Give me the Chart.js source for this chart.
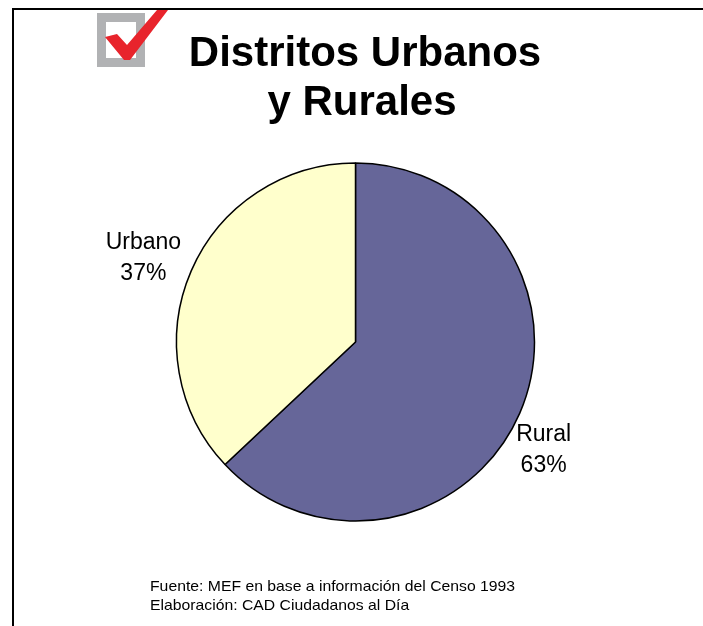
<!DOCTYPE html>
<html>
<head>
<meta charset="utf-8">
<script src="https://cdn.jsdelivr.net/npm/chart.js@4/dist/chart.umd.min.js"></script>
<style>
  html, body { margin: 0; padding: 0; background: #ffffff; }
  #wrap { width: 703px; height: 626px; position: relative; }
</style>
</head>
<body>
<div id="wrap"><canvas id="c" width="703" height="626"></canvas></div>
<script>
const categories = ["Rural", "Urbano"];
const values = [63, 37];
const valueLabels = ["63%", "37%"];
const titleLines = ["Distritos Urbanos", "y Rurales"];
const footerLines = ["Fuente: MEF en base a información del Censo 1993", "Elaboración: CAD Ciudadanos al Día"];

const sliceColors = ["#666699", "#FFFFCC"];

const decorPlugin = {
  id: 'decor',
  beforeDraw(chart) {
    const ctx = chart.ctx;
    ctx.save();
    ctx.fillStyle = '#ffffff';
    ctx.fillRect(0, 0, chart.width, chart.height);
    // frame lines
    ctx.strokeStyle = '#000000';
    ctx.lineWidth = 2;
    ctx.beginPath();
    ctx.moveTo(13, 626);
    ctx.lineTo(13, 9);
    ctx.lineTo(703, 9);
    ctx.stroke();
    // checkbox icon
    ctx.fillStyle = '#b1b2b4';
    ctx.fillRect(97, 13, 48, 54);
    ctx.fillStyle = '#ffffff';
    ctx.fillRect(106, 22, 30, 36);
    ctx.fillStyle = '#e8242c';
    ctx.beginPath();
    ctx.moveTo(105, 37);
    ctx.lineTo(117, 34);
    ctx.lineTo(127, 45);
    ctx.lineTo(157, 10);
    ctx.lineTo(168, 10);
    ctx.lineTo(130, 60);
    ctx.lineTo(124, 60);
    ctx.closePath();
    ctx.fill();
    ctx.restore();
  },
  afterDraw(chart) {
    const ctx = chart.ctx;
    ctx.save();
    ctx.fillStyle = '#000000';
    // title
    ctx.font = 'bold 42px "Liberation Sans", Arial, sans-serif';
    ctx.textAlign = 'center';
    ctx.textBaseline = 'alphabetic';
    ctx.fillText(titleLines[0], 365, 66);
    ctx.fillText(titleLines[1], 362, 115);
    // slice labels
    const meta = chart.getDatasetMeta(0);
    const nudges = [[-9, 21], [-15, -1]];
    ctx.font = '23px "Liberation Sans", Arial, sans-serif';
    meta.data.forEach((arc, i) => {
      const p = arc.getProps(['x', 'y', 'startAngle', 'endAngle', 'outerRadius'], true);
      const mid = (p.startAngle + p.endAngle) / 2;
      const ax = p.x + Math.cos(mid) * p.outerRadius * 1.2 + nudges[i][0];
      const ay = p.y + Math.sin(mid) * p.outerRadius * 1.2 + nudges[i][1];
      ctx.textAlign = 'center';
      ctx.fillText(categories[i], ax, ay - 7);
      ctx.fillText(valueLabels[i], ax, ay + 24);
    });
    // footer
    ctx.font = '15px "Liberation Sans", Arial, sans-serif';
    ctx.textAlign = 'left';
    const sx = 1.05;
    ctx.save();
    ctx.translate(150, 0);
    ctx.scale(sx, 1);
    ctx.fillText(footerLines[0], 0, 591);
    ctx.fillText(footerLines[1], 0, 610);
    ctx.restore();
    ctx.restore();
  }
};

new Chart(document.getElementById('c'), {
  type: 'pie',
  data: {
    labels: categories,
    datasets: [{
      data: values,
      backgroundColor: sliceColors,
      borderColor: '#000000',
      borderWidth: 1.5,
      hoverOffset: 0,
      radius: 179
    }]
  },
  options: {
    responsive: false,
    animation: false,
    layout: { padding: { left: 150, right: 142, top: 130, bottom: 72 } },
    plugins: {
      legend: { display: false },
      title: { display: false },
      tooltip: { enabled: false }
    },
    events: []
  },
  plugins: [decorPlugin]
});
</script>
</body>
</html>
